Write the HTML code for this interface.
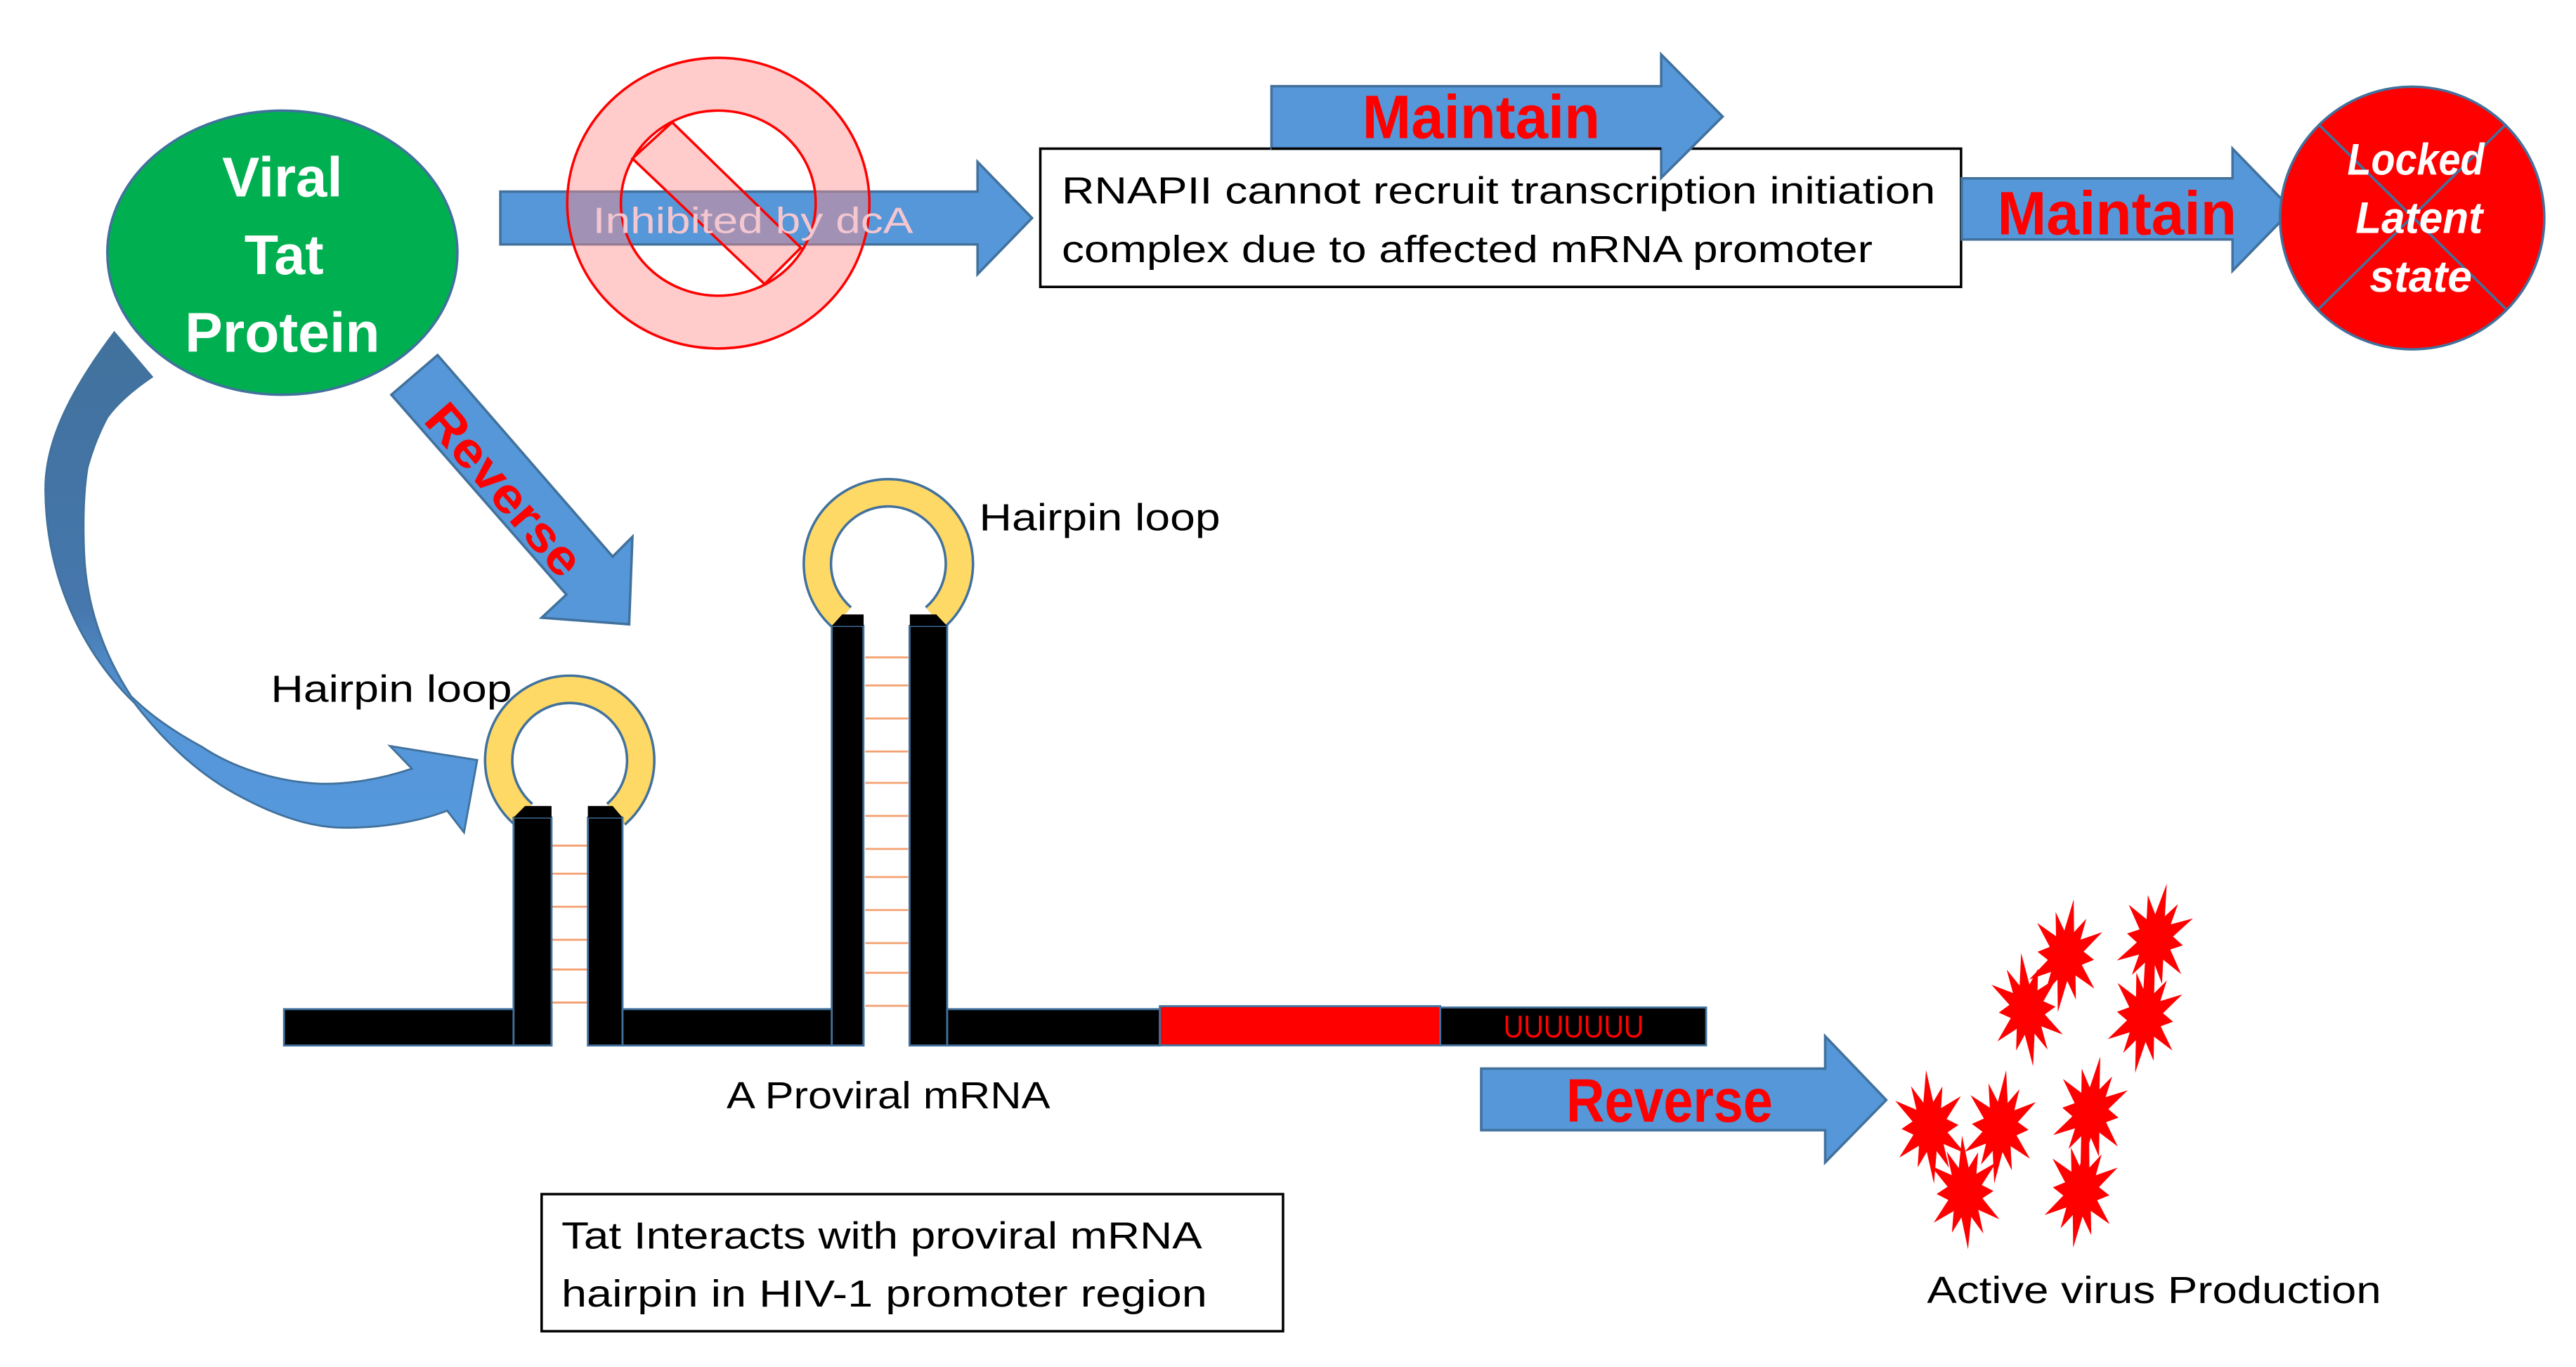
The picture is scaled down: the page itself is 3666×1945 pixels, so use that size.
<!DOCTYPE html>
<html><head><meta charset="utf-8"><style>
html,body{margin:0;padding:0;background:#fff;}
svg{display:block;}
text{font-family:"Liberation Sans",sans-serif;}
</style></head><body>
<svg width="3666" height="1945" viewBox="0 0 1560 827.66" preserveAspectRatio="none" xmlns="http://www.w3.org/2000/svg">
<defs>
<linearGradient id="cg" x1="0" y1="0" x2="0" y2="1">
<stop offset="0" stop-color="#41719c"/><stop offset="0.55" stop-color="#4677ad"/><stop offset="0.75" stop-color="#5596d8"/><stop offset="1" stop-color="#5598dc"/>
</linearGradient>
<polygon id="star" points="0,-30 2.6,-13 8,-20.8 6.5,-9.5 17.3,-15 9,-3.5 15,0 9,3.5 17.3,15 6.5,9.5 8.5,22.1 2.6,13 0,30 -2.6,13 -8,20.8 -6.5,9.5 -17.3,15 -9,3.5 -15,0 -9,-3.5 -17.3,-15 -6.5,-9.5 -8.5,-22.1 -2.6,-13"/>
</defs>
<rect width="1560" height="827.66" fill="#fff"/>

<ellipse cx="171" cy="153" rx="106" ry="86" fill="#00b050" stroke="#41719c" stroke-width="1.5"/>
<g font-weight="bold" fill="#fff" font-size="34" text-anchor="middle">
<text x="171" y="119" textLength="73" lengthAdjust="spacingAndGlyphs">Viral</text>
<text x="172" y="166" textLength="48" lengthAdjust="spacingAndGlyphs">Tat</text>
<text x="171" y="213" textLength="118" lengthAdjust="spacingAndGlyphs">Protein</text>
</g>

<polygon points="303,116 592,116 592,98 625,132 592,166 592,148 303,148" fill="#5597d8" stroke="#41719c" stroke-width="1.5"/>
<path fill-rule="evenodd" d="M343.5,123 a91.5,88 0 1,0 183,0 a91.5,88 0 1,0 -183,0 Z M376,123 a59,56 0 1,0 118,0 a59,56 0 1,0 -118,0 Z" fill="rgba(255,140,140,0.45)" stroke="#ff0000" stroke-width="1.5"/>
<polygon points="407,74 485,150 463,172 383,96" fill="rgba(255,140,140,0.45)" stroke="#ff0000" stroke-width="1.5"/>
<text x="456" y="141" font-size="22" fill="#f4c6d0" text-anchor="middle" textLength="194" lengthAdjust="spacingAndGlyphs">Inhibited by dcA</text>

<rect x="630" y="90" width="557.6" height="83.7" fill="#fff" stroke="#000" stroke-width="1.5"/>
<g font-size="23" fill="#000">
<text x="643" y="123.3" textLength="529" lengthAdjust="spacingAndGlyphs">RNAPII cannot recruit transcription initiation</text>
<text x="643" y="158.8" textLength="491" lengthAdjust="spacingAndGlyphs">complex due to affected mRNA promoter</text>
</g>
<polygon points="770,52.2 1006,52.2 1006,33 1043.2,70.6 1006,107.7 1006,90 770,90" fill="#5597d8" stroke="#41719c" stroke-width="1.5"/>
<line x1="770" y1="90" x2="1006" y2="90" stroke="#000" stroke-width="1.5"/>
<text x="897" y="83.6" font-size="37" font-weight="bold" fill="#ff0000" text-anchor="middle" textLength="144" lengthAdjust="spacingAndGlyphs">Maintain</text>

<polygon points="1188,108 1352,108 1352,90 1388,127 1352,164 1352,145 1188,145" fill="#5597d8" stroke="#41719c" stroke-width="1.5"/>
<text x="1282" y="142" font-size="37" font-weight="bold" fill="#ff0000" text-anchor="middle" textLength="145" lengthAdjust="spacingAndGlyphs">Maintain</text>

<ellipse cx="1460.8" cy="132" rx="80" ry="79.5" fill="#ff0000" stroke="#41719c" stroke-width="1.5"/>
<line x1="1404" y1="75.2" x2="1517.7" y2="187.2" stroke="#41719c" stroke-width="1.5"/>
<line x1="1517.7" y1="75.2" x2="1404" y2="187.2" stroke="#41719c" stroke-width="1.5"/>
<g font-size="27" font-weight="bold" font-style="italic" fill="#fff" text-anchor="middle">
<text x="1463" y="105.7" textLength="83" lengthAdjust="spacingAndGlyphs">Locked</text>
<text x="1465" y="141" textLength="77" lengthAdjust="spacingAndGlyphs">Latent</text>
<text x="1466" y="176.6" textLength="62" lengthAdjust="spacingAndGlyphs">state</text>
</g>

<polygon points="265,215 371,337 383,325 381,378 328,374 343,360 237,239" fill="#5597d8" stroke="#41719c" stroke-width="1.5"/>
<text transform="translate(306,296) rotate(49)" x="0" y="11" font-size="30" font-weight="bold" fill="#ff0000" text-anchor="middle" textLength="128" lengthAdjust="spacingAndGlyphs">Reverse</text>

<path d="M69.2,201.3 C40,240 27,270 27.5,297.4 C28,350 50,395 81.4,425.6 C100,450 120,468 142.5,480.6 C165,493 185,500 203.6,501 C230,502 255,497 270.8,490.8 L281,504 L289,460.2 L236.2,451.7 L249.4,465.4 C230,472 210,475 193.4,474.5 C165,473 140,464 122,452 C100,440 88,430 79.4,421.6 C62,395 52,365 50.9,334 C50,310 51,295 53,283 C56,272 60,262 65,252.6 C72,243 82,235 92,228.2 Z" fill="url(#cg)" stroke="#41719c" stroke-width="1.2"/>

<g fill="none" stroke-linecap="butt">
<path d="M317,493 A43,43 0 1,1 373,493" stroke="#41719c" stroke-width="18"/>
<path d="M317,493 A43,43 0 1,1 373,493" stroke="#ffd966" stroke-width="15"/>
<path d="M510,374 A43,43 0 1,1 566,374" stroke="#41719c" stroke-width="18"/>
<path d="M510,374 A43,43 0 1,1 566,374" stroke="#ffd966" stroke-width="15"/>
</g>
<g stroke="#f4a070" stroke-width="1.2">
<line x1="334" y1="512" x2="356" y2="512"/><line x1="334" y1="529" x2="356" y2="529"/><line x1="334" y1="549" x2="356" y2="549"/><line x1="334" y1="569" x2="356" y2="569"/><line x1="334" y1="587" x2="356" y2="587"/><line x1="334" y1="607" x2="356" y2="607"/>
<line x1="524" y1="398" x2="550" y2="398"/><line x1="524" y1="415" x2="550" y2="415"/><line x1="524" y1="435" x2="550" y2="435"/><line x1="524" y1="455" x2="550" y2="455"/><line x1="524" y1="474" x2="550" y2="474"/><line x1="524" y1="494" x2="550" y2="494"/><line x1="524" y1="514" x2="550" y2="514"/><line x1="524" y1="531" x2="550" y2="531"/><line x1="524" y1="551" x2="550" y2="551"/><line x1="524" y1="571" x2="550" y2="571"/><line x1="524" y1="589" x2="550" y2="589"/><line x1="524" y1="609" x2="550" y2="609"/>
</g>
<g stroke="#41719c" stroke-width="1.2">
<rect x="172" y="611" width="162" height="22" fill="#000"/>
<rect x="311" y="495" width="23" height="138" fill="#000"/>
<rect x="356" y="495" width="21" height="138" fill="#000"/>
<rect x="377" y="611" width="146" height="22" fill="#000"/>
<rect x="503.7" y="379" width="19.2" height="254" fill="#000"/>
<rect x="550.8" y="379" width="22.8" height="254" fill="#000"/>
<rect x="573.6" y="611" width="128.8" height="22" fill="#000"/>
<rect x="702.4" y="609.2" width="169.8" height="23.7" fill="#ff0000"/>
<rect x="872.2" y="610" width="161" height="22.9" fill="#000"/>
</g>
<polygon points="311,495 318,488 334,488 334,495" fill="#000"/>
<polygon points="377,495 371,488 356,488 356,495" fill="#000"/>
<polygon points="503.7,379 510,372 523,372 523,379" fill="#000"/>
<polygon points="573.6,379 567,372 551,372 551,379" fill="#000"/>
<text x="953" y="628" font-size="19" fill="#ff0000" text-anchor="middle" textLength="85" lengthAdjust="spacingAndGlyphs">UUUUUUU</text>

<g font-size="23" fill="#000">
<text x="593" y="321" textLength="146" lengthAdjust="spacingAndGlyphs">Hairpin loop</text>
<text x="164" y="425" textLength="146" lengthAdjust="spacingAndGlyphs">Hairpin loop</text>
<text x="440" y="671" textLength="196" lengthAdjust="spacingAndGlyphs">A Proviral mRNA</text>
<text x="1167" y="789" textLength="275" lengthAdjust="spacingAndGlyphs">Active virus Production</text>
</g>

<rect x="328" y="723" width="449" height="83" fill="#fff" stroke="#000" stroke-width="1.5"/>
<g font-size="23" fill="#000">
<text x="340" y="756" textLength="388" lengthAdjust="spacingAndGlyphs">Tat Interacts with proviral mRNA</text>
<text x="340" y="791" textLength="391" lengthAdjust="spacingAndGlyphs">hairpin in HIV-1 promoter region</text>
</g>

<polygon points="897,647 1105.3,647 1105.3,627.4 1142.3,666 1105.3,703.8 1105.3,684.3 897,684.3" fill="#5597d8" stroke="#41719c" stroke-width="1.5"/>
<text x="1011" y="679.2" font-size="37" font-weight="bold" fill="#ff0000" text-anchor="middle" textLength="125" lengthAdjust="spacingAndGlyphs">Reverse</text>

<g fill="#ff0000">
<use href="#star" transform="translate(1251,578.7) rotate(8) scale(1.15)"/>
<use href="#star" transform="translate(1305,568.8) rotate(12) scale(1.15)"/>
<use href="#star" transform="translate(1227.6,611.3) rotate(-6) scale(1.15)"/>
<use href="#star" transform="translate(1299,615.6) rotate(10) scale(1.15)"/>
<use href="#star" transform="translate(1168.8,682.3) rotate(-4) scale(1.15)"/>
<use href="#star" transform="translate(1211.3,682.3) rotate(6) scale(1.15)"/>
<use href="#star" transform="translate(1265.9,673.7) rotate(10) scale(1.15)"/>
<use href="#star" transform="translate(1190,722) rotate(-3) scale(1.15)"/>
<use href="#star" transform="translate(1260.3,721.3) rotate(8) scale(1.15)"/>
</g>
</svg>
</body></html>
